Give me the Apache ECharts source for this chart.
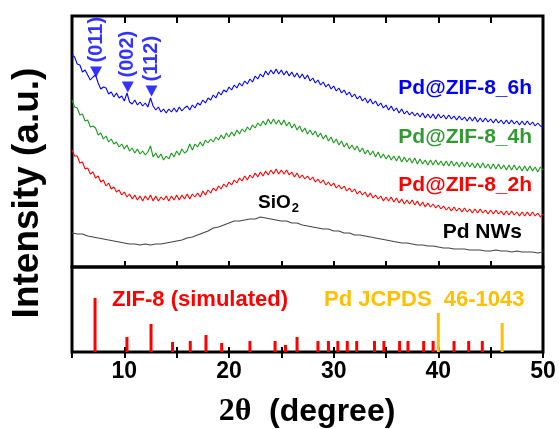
<!DOCTYPE html>
<html><head><meta charset="utf-8">
<script src="https://cdn.jsdelivr.net/npm/echarts@6/dist/echarts.min.js"></script>
<style>html,body{margin:0;padding:0;background:#fff}#c{width:559px;height:429px}</style>
</head><body><div id="c"></div>
<script>
// sampling grid of the measured patterns (2θ, degrees)
const ANGLE_START = 5, ANGLE_STEP = 0.25, NW_STEP = 0.5;

// Intensities (arbitrary units, stacked offsets included)
const pd6h = [
212,210,203,202, 195,197,192,187, 190,192,184,178, 180,179,173,175, 170,174,169,171,
166,174,165,163, 167,162,165,161, 164,160,169,161, 157,160,155,158, 154,158,155,159,
155,160,156,159, 161,157,162,159, 164,162,167,164, 169,167,172,169, 175,172,177,175,
180,177,182,179, 184,181,186,183, 188,185,191,188, 193,190,196,192, 197,193,198,193,
197,192,196,191, 195,190,194,189, 193,188,192,186, 189,184,187,182, 185,180,183,178,
181,176,179,174, 177,172,175,170, 173,168,171,166, 169,164,168,163, 166,161,164,159,
162,157,161,156, 159,154,158,153, 156,152,155,151, 154,150,154,149, 153,149,153,148,
153,149,152,148, 152,148,151,147, 151,147,150,146, 150,146,150,145, 149,145,149,145,
148,144,148,144, 147,143,147,143, 147,143,146,142, 146,142,146,142, 145,141,144,141,
140];
const pd4h = [
167,160,159,152, 153,146,147,140, 141,139,132,134, 128,131,125,128, 123,125,120,123,
118,122,116,119, 114,118,113,116, 112,115,121,110, 114,109,113,107, 111,108,114,110,
116,112,118,114, 116,123,117,123, 120,125,121,127, 124,128,125,130, 127,132,128,134,
130,135,131,137, 133,138,135,140, 137,142,139,144, 141,146,142,148, 143,148,143,147,
142,147,141,145, 139,143,137,141, 135,139,133,137, 132,136,130,134, 128,132,126,130,
124,128,122,126, 120,124,118,122, 117,121,115,119, 113,117,112,116, 110,115,109,113,
108,112,107,111, 106,111,105,110, 105,109,104,109, 103,108,103,107, 102,107,102,107,
102,106,101,106, 101,106,101,105, 100,105,100,105, 100,104,99,104, 99,104,99,103,
98,103,98,103, 98,102,97,102, 97,102,97,101, 96,101,96,101, 96,100,95,100,
97];
const pd2h = [
117,111,111,104, 105,98,99,93, 95,89,91,85, 87,81,84,78, 80,75,77,72,
75,70,73,68, 72,67,71,66, 71,67,72,66, 71,66,70,67, 71,66,71,67,
72,67,72,68, 73,68,73,70, 74,70,76,72, 77,74,79,76, 81,78,83,80,
85,82,87,84, 89,86,91,87, 92,89,94,90, 95,91,96,92, 97,93,98,93,
97,93,97,92, 95,90,94,89, 92,88,91,87, 90,85,88,84, 87,82,85,81,
84,79,82,78, 81,76,79,75, 78,73,76,72, 75,70,74,69, 72,68,71,66,
70,66,70,65, 69,64,68,63, 67,63,67,62, 66,61,65,60, 64,60,63,59,
62,58,61,57, 60,56,60,56, 59,55,59,55, 58,54,58,54, 58,54,57,53,
57,53,57,53, 56,52,56,52, 56,52,55,51, 55,51,55,51, 55,51,54,50,
53];
const pdNWs = [
34,33,33,31,30,29,28,27,26,25, 24,23,23,22,23,22,23,23,24,25,
26,27,29,30,32,34,36,39,40,42, 44,46,46,47,48,48,50,49,48,47,
46,46,44,44,42,41,40,39,38,38, 36,36,34,34,32,32,31,30,29,28,
27,26,25,24,24,23,22,22,21,21, 20,19,19,18,18,18,17,17,17,16,
16,17,16,16,15,16,15,15,15,14, 15];

// Reference sticks
const zifPeaks   = [7.2,10.25,12.55,14.6,16.3,17.8,19.3,22.0,24.4,25.4,26.5,28.5,29.5,30.4,31.3,32.2,33.9,34.8,36.3,37.1,38.6,39.5,41.5,42.9,44.2];
const zifHeights = [54,15,28,10,11,17,9,11,11,7,15,11,11,11,11,11,11,11,11,11,11,11,11,11,11];
const pdPeaks    = [40.0,46.1];
const pdHeights  = [39,29];

// (hkl) markers on the 6h pattern
const hklNames = ['(011)','(002)','(112)'];
const hklPos   = [7.3,10.33,12.6];
const hklLevel = [195,180,176];

const xTickLabels = [10,20,30,40,50];

const SANS = "'Liberation Sans', Arial, sans-serif";
const SERIF = "'Liberation Serif', 'Times New Roman', serif";

const toPairs = (arr, step) => arr.map((v, i) => [ANGLE_START + i * step, v]);

const chart = echarts.init(document.getElementById('c'), null, {renderer: 'canvas'});

const tickAxis = (grid, pos, len, labels) => ({
  type: 'value', gridIndex: grid, position: pos, min: 5, max: 50, interval: 5,
  axisLine: {show: false},
  axisTick: {show: true, inside: true, length: len, lineStyle: {color: '#000', width: 2}},
  splitLine: {show: false},
  axisLabel: labels ? {
    show: true, margin: 8, color: '#000', fontFamily: SANS, fontWeight: 'bold', fontSize: 23,
    formatter: v => xTickLabels.includes(v) ? String(v) : ''
  } : {show: false}
});

const lineSeries = (data, color, width) => ({
  type: 'line', xAxisIndex: 0, yAxisIndex: 0, data, showSymbol: false, silent: true,
  lineStyle: {color, width}, itemStyle: {color}, z: 3
});

chart.setOption({
  animation: false,
  backgroundColor: '#fff',
  grid: [
    {left: 72, right: 16, top: 16, height: 251, show: true, borderColor: '#000', borderWidth: 3, containLabel: false},
    {left: 72, right: 16, top: 267, height: 85, show: true, borderColor: '#000', borderWidth: 3, containLabel: false}
  ],
  xAxis: [
    tickAxis(0, 'bottom', 6, false),
    tickAxis(0, 'top', 7, false),
    tickAxis(1, 'top', 6, false),
    tickAxis(1, 'bottom', 5, true)
  ],
  yAxis: [
    {type: 'value', gridIndex: 0, min: 0, max: 251, show: false, splitLine: {show: false}},
    {type: 'value', gridIndex: 1, min: 0, max: 85, show: false, splitLine: {show: false}}
  ],
  series: [
    lineSeries(toPairs(pdNWs, NW_STEP), '#444444', 1.1),
    lineSeries(toPairs(pd2h, ANGLE_STEP), '#ff0000', 1.1),
    lineSeries(toPairs(pd4h, ANGLE_STEP), '#1a9a1a', 1.1),
    lineSeries(toPairs(pd6h, ANGLE_STEP), '#0000ff', 1.1),
    {
      type: 'scatter', xAxisIndex: 0, yAxisIndex: 0, silent: true, z: 5,
      symbol: 'triangle', symbolRotate: 180, symbolSize: [12, 11],
      itemStyle: {color: '#0000ff'},
      data: hklPos.map((x, i) => ({value: [x, hklLevel[i]], name: hklNames[i]})),
      label: {
        show: true, position: 'top', distance: 4, rotate: 90,
        align: 'left', verticalAlign: 'middle',
        formatter: p => p.name,
        color: '#0000ff', fontFamily: SANS, fontWeight: 'bold', fontSize: 20
      }
    },
    {
      type: 'bar', xAxisIndex: 3, yAxisIndex: 1, barWidth: 3, barGap: '-100%', silent: true,
      itemStyle: {color: '#ff0000'},
      data: zifPeaks.map((x, i) => [x, zifHeights[i]])
    },
    {
      type: 'bar', xAxisIndex: 3, yAxisIndex: 1, barWidth: 3, barGap: '-100%', silent: true,
      itemStyle: {color: '#ffc000'},
      data: pdPeaks.map((x, i) => [x, pdHeights[i]])
    }
  ],
  graphic: [
    {type: 'text', x: 532, y: 88, silent: true, style: {text: 'Pd@ZIF-8_6h', fill: '#0000ff', font: 'bold 21px ' + SANS, align: 'right', verticalAlign: 'middle'}},
    {type: 'text', x: 532, y: 137, silent: true, style: {text: 'Pd@ZIF-8_4h', fill: '#339933', font: 'bold 21px ' + SANS, align: 'right', verticalAlign: 'middle'}},
    {type: 'text', x: 532, y: 185, silent: true, style: {text: 'Pd@ZIF-8_2h', fill: '#ff0000', font: 'bold 21px ' + SANS, align: 'right', verticalAlign: 'middle'}},
    {type: 'text', x: 522, y: 232, silent: true, style: {text: 'Pd NWs', fill: '#000', font: 'bold 21px ' + SANS, align: 'right', verticalAlign: 'middle'}},
    {type: 'text', x: 258, y: 203, silent: true, style: {
      text: '{a|SiO}{b|2}', fill: '#000', align: 'left', verticalAlign: 'middle',
      rich: {a: {font: 'bold 19px ' + SANS, fill: '#000'}, b: {font: 'bold 13px ' + SANS, fill: '#000', padding: [10, 0, 0, 1]}}
    }},
    {type: 'text', x: 112, y: 300, silent: true, style: {text: 'ZIF-8 (simulated)', fill: '#ff0000', font: 'bold 22px ' + SANS, align: 'left', verticalAlign: 'middle'}},
    {type: 'text', x: 324, y: 300, silent: true, style: {text: 'Pd JCPDS  46-1043', fill: '#ffc000', font: 'bold 22px ' + SANS, align: 'left', verticalAlign: 'middle'}},
    {type: 'text', x: 28, y: 193, rotation: Math.PI / 2, silent: true, style: {text: 'Intensity (a.u.)', fill: '#000', font: 'bold 37px ' + SANS, align: 'center', verticalAlign: 'middle'}},
    {type: 'text', x: 307, y: 412, silent: true, style: {
      text: '{t|2θ}{d|  (degree)}', fill: '#000', align: 'center', verticalAlign: 'middle',
      rich: {t: {font: 'bold 32px ' + SERIF, fill: '#000'}, d: {font: 'bold 32px ' + SANS, fill: '#000'}}
    }}
  ]
});
</script>
</body></html>
